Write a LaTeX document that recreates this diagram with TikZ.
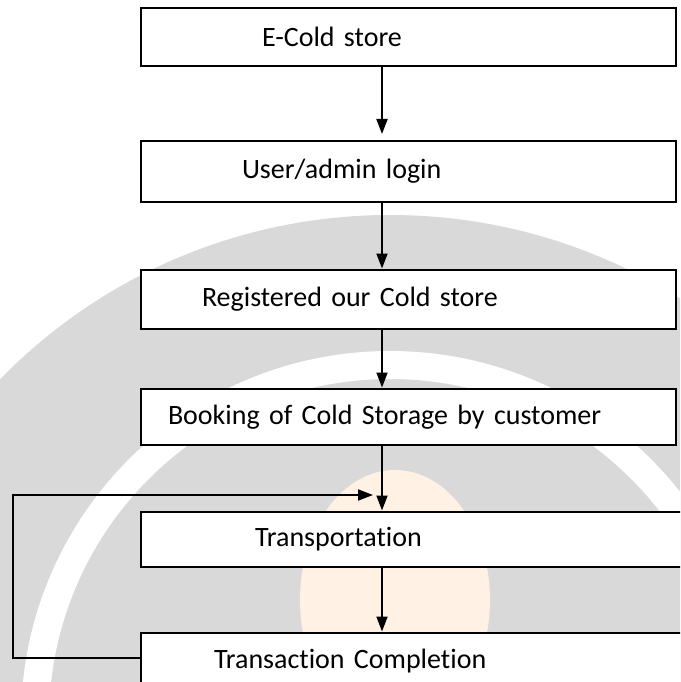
\documentclass[tikz,border=0pt]{standalone}
\usepackage{fontspec}
\setmainfont{Carlito}[Ligatures=NoCommon]
\usetikzlibrary{arrows.meta,positioning}

\begin{document}
\begin{tikzpicture}[
    x=1pt, y=1pt,
    box/.style={draw, fill=white, line width=1.8pt, outer sep=0pt, align=left, inner xsep=0pt, inner ysep=0pt, text width=535pt, minimum height=58pt, font=\fontsize{28}{34}\selectfont},
    wide/.style={box, text width=600pt},
    lead/.style={execute at begin node=\hspace*{#1}},
    flow/.style={-{Triangle[length=15pt,width=11pt]}, line width=1.8pt, shorten >=1.5pt}
]
% page frame
\path[use as bounding box, clip] (0,0) rectangle (680,-682);
\fill[white] (0,0) rectangle (680,-682);
% faded logo behind the chart
\fill[black!15] (390,-760) circle (545);
\draw[white, line width=28pt] (390,-720) circle (355);
\fill[orange!10] (395,-600) ellipse (95 and 130);

\node[box, lead=121pt, anchor=north west] (store) at (141,-8) {E-Cold store};
\node[box, lead=101pt, minimum height=61pt, below=75pt of store.south west, anchor=north west] (login) {User/admin login};
\node[box, lead=61pt, minimum height=59pt, below=68pt of login.south west, anchor=north west] (reg) {Registered our Cold store};
\node[box, lead=27pt, minimum height=56pt, below=60pt of reg.south west, anchor=north west] (book) {Booking of Cold Storage by customer};
\node[wide, lead=114pt, minimum height=55pt, below=67pt of book.south west, anchor=north west] (ship) {Transportation};
\node[wide, lead=73pt, minimum height=56pt, below=66pt of ship.south west, anchor=north west] (done) {Transaction Completion};

% main column and the loop back
\coordinate (spine) at (382,0);
\coordinate (join) at (382,-495);
\coordinate (back) at (13,-495);

\draw[flow, shorten >=7pt] (store.south -| spine) -- (login.north -| spine);
\draw[flow] (login.south -| spine) -- (reg.north -| spine);
\draw[flow] (reg.south -| spine) -- (book.north -| spine);
\draw[flow] (book.south -| spine) -- (ship.north -| spine);
\draw[flow] (ship.south -| spine) -- (done.north -| spine);
\draw[flow, shorten >=9pt] ([yshift=-25pt]done.north west) -| (back) -- (join);
\end{tikzpicture}
\end{document}
